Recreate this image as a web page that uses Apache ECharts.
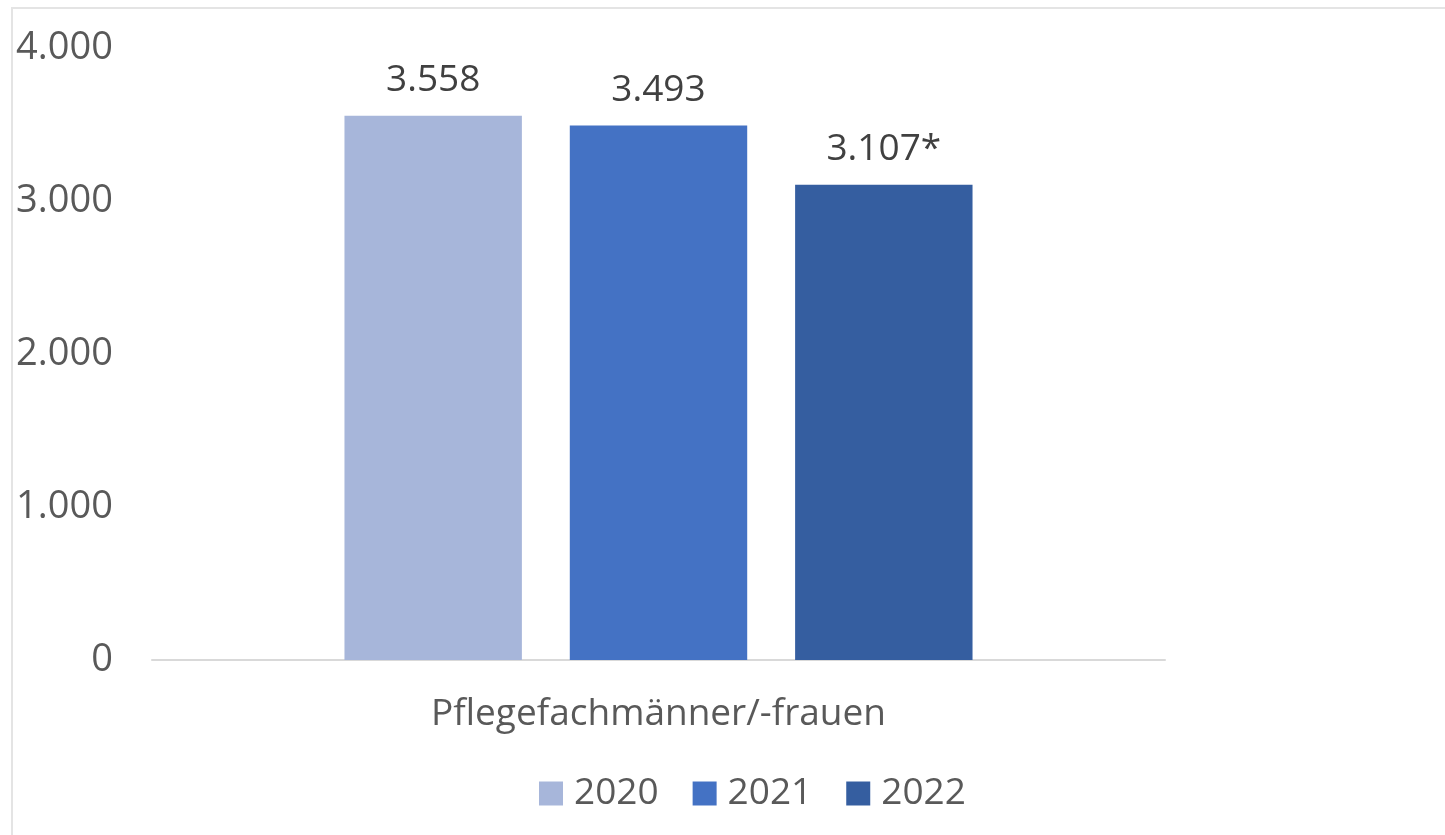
<!DOCTYPE html>
<html>
<head>
<meta charset="utf-8">
<script src="https://cdn.jsdelivr.net/npm/echarts@6/dist/echarts.min.js"></script>
<style>
    html, body { margin: 0; padding: 0; background: #fff; }
    #frame {
        position: absolute; left: 11px; top: 7px; width: 1440px; height: 840px;
        border-left: 2px solid #e4e4e4; border-top: 2px solid #e4e4e4;
    }
    #chart { position: absolute; left: 0; top: 0; width: 1445px; height: 835px; }
</style>
</head>
<body>
<div id="frame"></div>
<div id="chart"></div>
<script>
// chart data
var categories = ["Pflegefachmänner/-frauen"];
var years = ["2020", "2021", "2022"];
var values2020 = [3558];
var values2021 = [3493];
var values2022 = [3107];
var labelNotes = ["", "", "*"];
var yTicks = [0, 1000, 2000, 3000, 4000];
var colors = ["#a7b6da", "#4472c4", "#355ea0"];

function germanNumber(v) {
    return String(v).replace(/\B(?=(\d{3})+(?!\d))/g, ".");
}

var seriesValues = [values2020, values2021, values2022];

var chart = echarts.init(document.getElementById("chart"));
chart.setOption({
    animation: false,
    textStyle: { fontFamily: "Open Sans" },
    grid: { left: 152, right: 280, top: 48, bottom: 175 },
    legend: {
        data: years,
        left: 534,
        top: 770,
        itemWidth: 24,
        itemHeight: 24,
        itemGap: 34,
        icon: "rect",
        textStyle: { fontSize: 37, color: "#595959", fontFamily: "Open Sans", padding: [0, 0, 0, 6] }
    },
    xAxis: {
        type: "category",
        data: categories,
        axisLine: { lineStyle: { color: "#d9d9d9", width: 2 } },
        axisTick: { show: false },
        axisLabel: { fontSize: 37, color: "#595959", margin: 36 }
    },
    yAxis: {
        type: "value",
        min: yTicks[0],
        max: yTicks[yTicks.length - 1],
        interval: 1000,
        splitLine: { show: false },
        axisLine: { show: false },
        axisTick: { show: false },
        axisLabel: {
            fontSize: 38,
            color: "#595959",
            margin: 39,
            formatter: function (v) { return germanNumber(v); }
        }
    },
    series: years.map(function (y, i) {
        return {
            name: y,
            type: "bar",
            data: seriesValues[i],
            barGap: "27%",
            barCategoryGap: "38%",
            itemStyle: { color: colors[i] },
            label: {
                show: true,
                position: "top",
                distance: 17,
                fontSize: 37,
                color: "#404040",
                fontFamily: "Open Sans",
                formatter: function (p) { return germanNumber(p.value) + labelNotes[i]; }
            }
        };
    })
});
</script>
</body>
</html>
